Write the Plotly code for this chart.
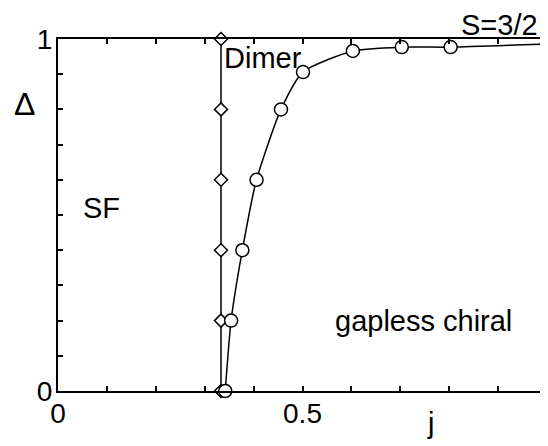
import plotly.graph_objects as go

# Data
dimer_j = [1/3, 1/3, 1/3, 1/3, 1/3, 1/3]
dimer_delta = [0.0, 0.2, 0.4, 0.6, 0.8, 1.0]

chiral_j = [0.342, 0.354, 0.377, 0.406, 0.456, 0.501, 0.603, 0.703, 0.803, 1.0]
chiral_delta = [0.0, 0.2, 0.4, 0.6, 0.8, 0.906, 0.966, 0.977, 0.977, 0.986]

x_tickvals = [0, 0.1, 0.2, 0.3, 0.4, 0.5, 0.6, 0.7, 0.8, 0.9, 1.0]
x_ticktext = ["0", "", "", "", "", "0.5", "", "", "", "", "1"]
y_tickvals = [0, 0.1, 0.2, 0.3, 0.4, 0.5, 0.6, 0.7, 0.8, 0.9, 1.0]
y_ticktext = ["0", "", "", "", "", "", "", "", "", "", "1"]

FONT = "Liberation Sans, Arial, Helvetica, sans-serif"

fig = go.Figure()
fig.add_trace(go.Scatter(
    x=dimer_j, y=dimer_delta, mode="lines+markers",
    line=dict(color="black", width=1.5),
    marker=dict(symbol="diamond", size=10, color="white",
                line=dict(color="black", width=1.5)),
    cliponaxis=False, showlegend=False))
fig.add_trace(go.Scatter(
    x=chiral_j, y=chiral_delta, mode="lines+markers",
    line=dict(color="black", width=1.5, shape="spline", smoothing=0.6),
    marker=dict(symbol="circle", size=13, color="white",
                line=dict(color="black", width=1.5)),
    cliponaxis=False, showlegend=False))

axis_common = dict(
    showgrid=False, zeroline=False, showline=True, linecolor="black",
    linewidth=2, mirror="ticks", ticks="inside", ticklen=5, tickwidth=1.5,
    tickcolor="black", tickmode="array", automargin=False,
    tickfont=dict(family=FONT, size=28, color="black"),
)
fig.update_xaxes(range=[0, 1], tickvals=x_tickvals, ticktext=x_ticktext,
                 ticklabelstandoff=-4, **axis_common)
fig.update_yaxes(range=[0, 1], tickvals=y_tickvals, ticktext=y_ticktext,
                 ticklabelstandoff=-2, **axis_common)

labels = [
    ("SF", 0.088, 0.521, "center"),
    ("Dimer", 0.336, 0.947, "left"),
    ("gapless chiral", 0.747, 0.199, "center"),
    ("S=3/2", 0.903, 1.040, "center"),
    ("Δ", -0.0695, 0.815, "center"),
    ("j", 0.761, -0.090, "center"),
]
for text, x, y, xa in labels:
    fig.add_annotation(x=x, y=y, xref="paper", yref="paper", text=text,
                       showarrow=False, xanchor=xa, yanchor="middle",
                       font=dict(family=FONT, size=32 if text == "Δ" else 29,
                                 color="black"))

# The page body adds an 8px offset, so the figure is sized to fill the rest.
fig.update_layout(
    width=540, height=438,
    margin=dict(l=50, r=1, t=31, b=55, autoexpand=False),
    paper_bgcolor="white", plot_bgcolor="white",
)
fig.write_html("out.html")
